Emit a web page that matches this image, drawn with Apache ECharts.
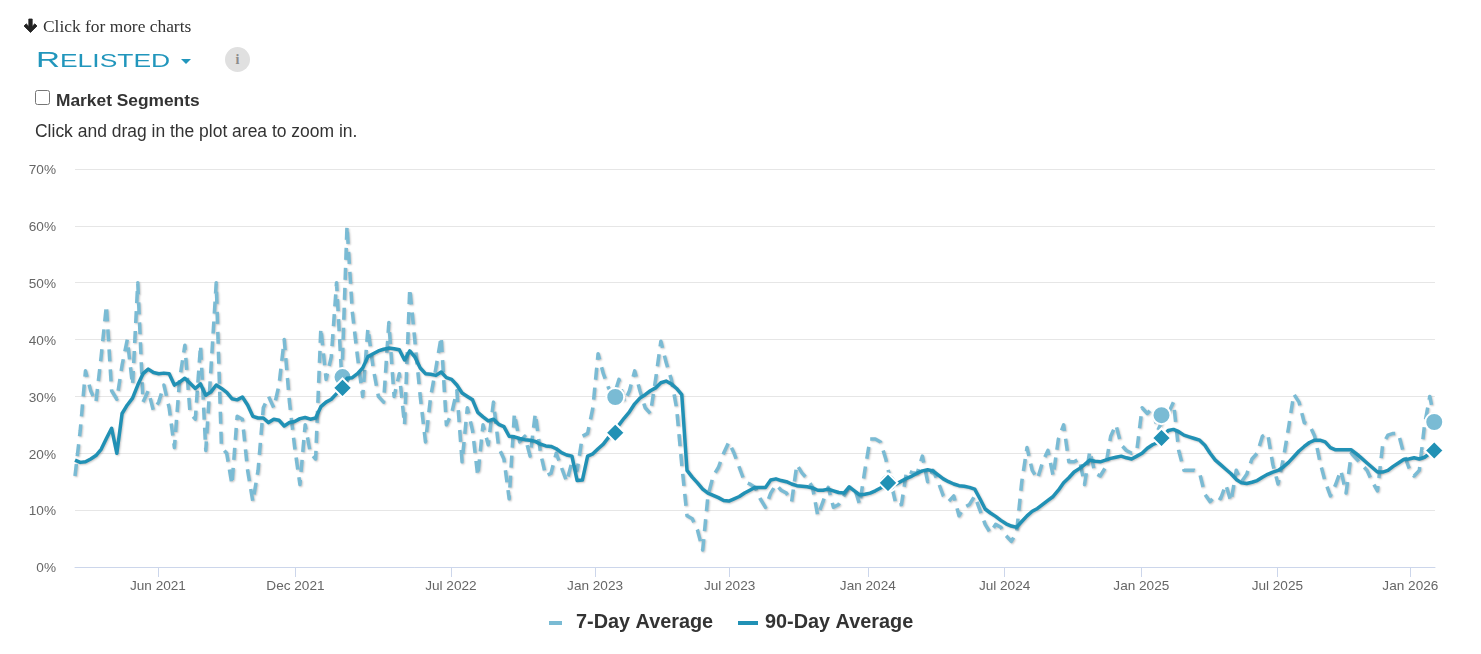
<!DOCTYPE html>
<html><head><meta charset="utf-8">
<script src="https://cdn.jsdelivr.net/npm/echarts@6/dist/echarts.min.js"></script>
<style>
html,body{margin:0;padding:0;background:#fff;width:1481px;height:654px;overflow:hidden;}
#chart{position:absolute;left:0;top:0;width:1481px;height:654px;}
.t{position:absolute;white-space:nowrap;color:#333;z-index:2;}
</style></head><body>
<div id="chart"></div>
<svg class="t" style="left:22px;top:18px;" width="17" height="16" viewBox="0 0 17 16"><path d="M8.5 14.5 L2 8 L4.2 5.8 L6.8 8.4 L6.8 1 L10.2 1 L10.2 8.4 L12.8 5.8 L15 8 Z" fill="#222" stroke="#222" stroke-width="0.8" stroke-linejoin="round"/></svg>
<div class="t" style="left:43px;top:16px;font:17.4px 'Liberation Serif';line-height:20px;">Click for more charts</div>
<div class="t" id="rel" style="left:36px;top:46px;font:22px 'Liberation Sans';color:#2196bc;line-height:28px;transform-origin:0 50%;transform:scaleX(1.51);">R<span style="font-size:17.5px;text-transform:uppercase;">elisted</span></div>
<div class="t" style="left:181px;top:59px;width:0;height:0;border-left:5px solid transparent;border-right:5px solid transparent;border-top:5px solid #2196bc;"></div>
<div class="t" style="left:225px;top:47px;width:25px;height:25px;border-radius:50%;background:#e0e0e0;color:#8c8c8c;font:bold 14px 'Liberation Serif';line-height:25px;text-align:center;">i</div>
<input class="t" type="checkbox" style="left:35px;top:90px;margin:0;width:15px;height:15px;">
<div class="t" style="left:56px;top:89px;font:bold 17.35px 'Liberation Sans';line-height:22px;">Market Segments</div>
<div class="t" style="left:35px;top:120px;font:17.48px 'Liberation Sans';line-height:22px;">Click and drag in the plot area to zoom in.</div>
<script>
var seriesNames = ['7-Day Average', '90-Day Average'];
var firstWeek = Date.UTC(2021, 1, 10);
var sevenDay = [16,24,34.5,31,29,37,46,31,29.5,35.5,40,32,50,29,31,27.5,29,32,28,21,33,39,27,26,39,20.5,35,50,21,20,14.5,26.5,26,17,11.5,17,28,30,28,32,40,29,21,14.5,25,20,19,42,33,37,50,33,60,45,37,30,42,35,30,29,43,30,34,25,49,39.5,30,22,30,35,40.5,25,27,31,18.5,28,24,16,25,21.5,29,21,19,12,27,22,23,19.5,27,20,16,16.5,20,17.5,15,18.5,17,23,23.5,28,37.5,34,31.5,30,33,29,31,34.5,31,28,27,33,39.7,36,33,28,18,9,8.5,6.5,3,12.5,16,17.5,20,22,20,17.5,15,14.6,14,12,10.5,13,14.5,13.5,13,11.5,18,16.5,15.5,14,9,11.5,14,10.5,11,12.5,14,14,11,17,22.5,22.5,22,19,14.8,10.8,11,17,16.6,16.5,19.5,15,17,15,12.5,11.5,12.5,9,10.5,11,12.5,10,7.5,6,7.5,7,5.5,4.5,6,15,21,17,15.5,18.5,20.5,16,22.5,25,18.5,18.5,19,14.5,20.4,16.5,16,17.5,23,25,21.5,20.5,20,20.5,28,27,28,24,26,27,29,20.5,17,17,17,16.5,12.8,11.5,12.5,12,14.5,11.5,17,15,16.3,19,20,23,23.5,18,14.6,19,24.5,30.4,29,25.4,25,23,18.5,15,12.5,14.5,17,13,20,19,18,17,15,13.4,21.5,23.2,23.5,23.5,20,17.5,16,17,25,30,25.5];
var ninetyDay = [18.8,18.4,18.5,19,19.6,20.7,22.6,24.4,20,27,28.5,29.7,32,34,34.8,34.2,34,34.1,34,32,32.5,33.2,32.3,31.4,32.2,30.2,30.8,32,31.4,30.7,29.6,29.4,29.9,28.5,26.5,26.2,26.2,25.4,26,25.8,24.8,25.4,25.6,26.1,26.3,26,26.2,28.2,29,29.5,30.5,31.5,33.2,33.3,34,35,37,37.5,38,38.3,38.5,38.4,38.2,36.4,38,36.9,35,34,33.9,33.7,34.3,33.3,33,32,30.6,30,29.4,27.2,26.4,25.7,26,25.1,24.7,23,22.9,22.6,22.4,22.3,22.1,21.6,21.3,21.2,20.8,20.1,19.7,19.5,15.2,15.3,19.5,19.9,20.8,21.6,22.8,23.7,25,26.2,27.3,28.7,29.7,30.3,31,31.5,32.4,32.7,32.2,31.4,30.3,17,15.8,14.8,13.7,13,12.6,12.2,11.7,11.6,12,12.4,13,13.5,14,14,14,15.3,15.5,15.2,15,14.6,14.3,14.2,14.1,13.9,13.5,13.5,13.7,13.4,13.1,13,14.1,13.4,12.7,12.8,13,13.4,13.9,14.5,14.7,14.6,15.1,15.6,16,16.5,16.9,17.1,16.9,16.2,15.5,15,14.6,14.3,14.2,14,13.7,12,10.2,9.5,8.9,8.2,7.6,7.2,7,8,9,9.8,10.3,11,11.7,12.4,13.5,14.8,15.7,16.7,17.3,18,18.8,18.6,18.5,18.8,19.1,19.3,19.5,19.2,19,19.5,20,20.9,21.5,21.9,23,24,24.2,23.8,23.2,22.9,22.6,22.3,21.4,20,18.8,18,17.2,16.4,15.4,14.8,14.7,14.9,15.2,15.8,16.3,16.7,17,17.6,18.4,19.4,20.4,21.2,21.9,22.3,22.3,22,21,20.6,20.6,20.6,20.6,19.9,19.1,18.3,17.5,16.7,16.7,17,17.7,18.3,18.9,19,19.2,19,19.3,20,20.5];
var markerDates = ['2022-02-03','2023-02-03','2024-02-03','2025-02-03','2026-02-03'];
var marker7Day = [33.4,29.9,14.8,26.7,25.5];
var marker90Day = [31.5,23.6,14.8,22.7,20.5];
var tickDates = ['2021-06-01','2021-12-02','2022-06-28','2023-01-07','2023-07-06','2024-01-07','2024-07-08','2025-01-07','2025-07-08','2026-01-02'];
var tickLabels = ['Jun 2021','Dec 2021','Jul 2022','Jan 2023','Jul 2023','Jan 2024','Jul 2024','Jan 2025','Jul 2025','Jan 2026'];
var yTicks = ['0%','10%','20%','30%','40%','50%','60%','70%'];

var C7 = '#7abbd4', C90 = '#2191b5';
var DAY = 86400000;
function ts(s){ return new Date(s + 'T00:00:00Z').getTime(); }
var tickTs = tickDates.map(ts);
function pairs(arr){ return arr.map(function(v,i){ return [firstWeek + i*7*DAY, v]; }); }
function mpairs(arr){ return arr.map(function(v,i){ return [ts(markerDates[i]), v]; }); }
var shadow = {shadowColor:'rgba(0,0,0,0.22)', shadowBlur:2, shadowOffsetX:1, shadowOffsetY:1};

var chart = echarts.init(document.getElementById('chart'));
var legendBase = {orient:'horizontal', icon:'rect', selectedMode:false, padding:0};
chart.setOption({
  animation:false,
  backgroundColor:'#fff',
  textStyle:{fontFamily:"'Liberation Sans',Arial,sans-serif"},
  grid:{left:75, right:46, top:169, bottom:87, containLabel:false},
  xAxis:{
    type:'value',
    scale:true,
    min:firstWeek,
    max:firstWeek + 260*7*DAY,
    axisLine:{show:true, onZero:false, lineStyle:{color:'#ccd6eb', width:1}},
    axisTick:{show:true, length:10, customValues:tickTs, lineStyle:{color:'#ccd6eb', width:1}},
    axisLabel:{
      show:true, customValues:tickTs, color:'#666', fontSize:13.6, margin:12,
      hideOverlap:false, showMinLabel:true, showMaxLabel:true,
      formatter:function(v){ var k=tickTs.indexOf(+v); return k>=0 ? tickLabels[k] : ''; }
    },
    splitLine:{show:false}
  },
  yAxis:{
    type:'value', min:0, max:70, interval:10,
    axisLine:{show:false}, axisTick:{show:false},
    axisLabel:{margin:19, formatter:function(v){ return '{a|' + yTicks[v/10] + '}'; },
      rich:{a:{color:'#666', fontSize:13.6, padding:[3,0,0,0]}}},
    splitLine:{lineStyle:{color:'#e6e6e6', width:1}}
  },
  legend:[
    Object.assign({}, legendBase, {data:[seriesNames[0]], left:549, top:613, itemWidth:13, itemHeight:4,
      textStyle:{fontSize:19.85, fontWeight:'bold', color:'#333', padding:[0,0,0,9]}}),
    Object.assign({}, legendBase, {data:[seriesNames[1]], left:738, top:613, itemWidth:20, itemHeight:4,
      textStyle:{fontSize:19.85, fontWeight:'bold', color:'#333', padding:[0,0,0,2]}})
  ],
  series:[
    {name:seriesNames[0], type:'line', data:pairs(sevenDay), showSymbol:false, symbol:'none', z:2,
      color:C7, itemStyle:{color:C7},
      lineStyle:Object.assign({color:C7, width:3.5, type:[12,8], cap:'butt', join:'round'}, shadow)},
    {type:'scatter', data:mpairs(marker7Day), symbol:'circle', symbolSize:18, z:3, clip:false, silent:true,
      itemStyle:{color:C7, borderColor:'#fff', borderWidth:2, opacity:1}},
    {name:seriesNames[1], type:'line', data:pairs(ninetyDay), showSymbol:false, symbol:'none', z:4,
      color:C90, itemStyle:{color:C90},
      lineStyle:Object.assign({color:C90, width:3.5, join:'round'}, shadow)},
    {type:'scatter', data:mpairs(marker90Day), symbol:'diamond', symbolSize:[19,19], z:5, clip:false, silent:true,
      itemStyle:{color:C90, borderColor:'#fff', borderWidth:2, opacity:1}}
  ]
});
</script>
</body></html>
